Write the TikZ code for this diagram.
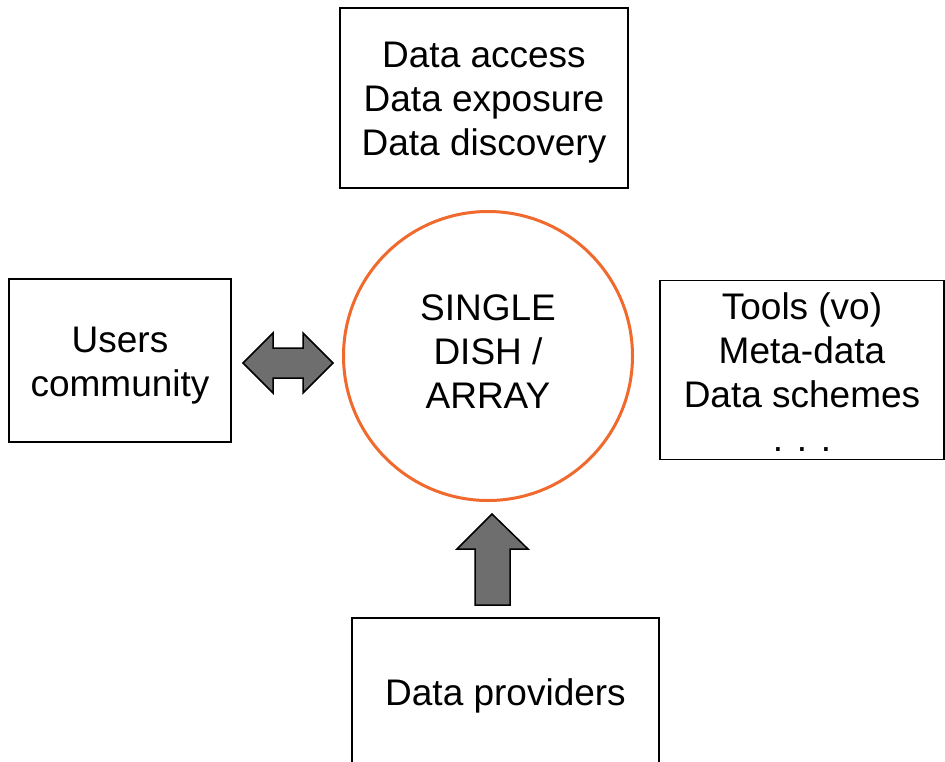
\documentclass[tikz,border=0pt]{standalone}
\usepackage{fontspec}
\setmainfont{Liberation Sans}
\begin{document}
\begin{tikzpicture}[x=1pt,y=-1pt,
  box/.style={draw=black,line width=1.6pt,fill=white,inner sep=0pt},
  boxtext/.style={inner sep=0pt,align=center,font=\fontsize{37}{44}\selectfont},
  hub/.style={circle,draw={rgb,255:red,240;green,105;blue,45},line width=3pt,inner sep=0pt,minimum size=289pt},
  blockarrow/.style={draw=black,line width=1.5pt,fill={rgb,255:red,110;green,110;blue,110},line join=miter}]
\useasboundingbox (0,0) rectangle (945,761);
\clip (0,0) rectangle (945,761);
\fill[white] (0,0) rectangle (945,761);
\node[box,minimum width=288pt,minimum height=180pt] (access) at (484,98) {};
\node[boxtext] (accesstext) at (484,103) {Data access\\Data exposure\\Data discovery};
\node[box,minimum width=222pt,minimum height=163pt] (users) at (120,360.5) {};
\node[boxtext] (userstext) at (120,366) {Users\\community};
\node[box,minimum width=284pt,minimum height=179pt] (tools) at (802,370) {};
\node[boxtext] (toolstext) at (802,372) {Tools (vo)\\Meta-data\\Data schemes\\. . .};
\node[box,minimum width=307pt,minimum height=160pt] (prov) at (505.5,698) {};
\node[boxtext] (provtext) at (505.5,696) {Data providers};
\node[hub] (hub) at (488,356) {};
\node[boxtext] (hubtext) at (488,352) {SINGLE\\DISH /\\ARRAY};
\draw[blockarrow] (243,363) -- (273,333) -- (273,348) -- (303,348) -- (303,333) -- (333,363) -- (303,393) -- (303,378) -- (273,378) -- (273,393) -- cycle;
\draw[blockarrow] (492,514) -- (528,549) -- (510,549) -- (510,605) -- (475,605) -- (475,549) -- (457,549) -- cycle;
\end{tikzpicture}
\end{document}
